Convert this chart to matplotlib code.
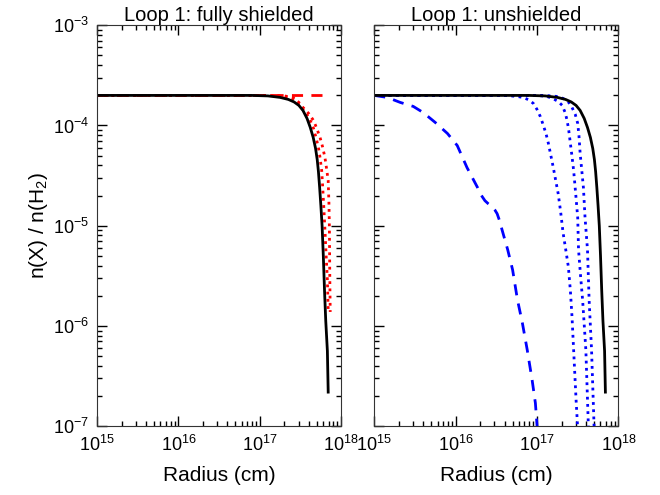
import numpy as np
import matplotlib
matplotlib.use("Agg")
import matplotlib.pyplot as plt

plt.rcParams['font.family'] = ['Liberation Sans', 'DejaVu Sans']
plt.rcParams['mathtext.fontset'] = 'custom'
plt.rcParams['mathtext.rm'] = 'Liberation Sans'
plt.rcParams['mathtext.it'] = 'Liberation Sans:italic'
plt.rcParams['font.size'] = 12

# log10 radius (cm) and log10 abundance
# black solid: same curve in both panels
black_r = [15.0, 16.9, 17.1, 17.25, 17.35, 17.42, 17.48, 17.53, 17.58, 17.62, 17.656,
           17.685, 17.705, 17.72, 17.735, 17.75, 17.765, 17.78, 17.795, 17.81, 17.83, 17.84]
black_n = [-3.70, -3.70, -3.705, -3.72, -3.74, -3.765, -3.80, -3.85, -3.93, -4.02, -4.12,
           -4.23, -4.34, -4.46, -4.62, -4.80, -5.00, -5.30, -5.65, -5.95, -6.25, -6.66]

# left panel, red
red_dash_r = [15.0, 17.82]
red_dash_n = [-3.70, -3.70]

red_dot1_r = [15.0, 17.0, 17.25, 17.37, 17.43, 17.47, 17.52, 17.57, 17.62, 17.66, 17.69,
              17.72, 17.74, 17.76, 17.77, 17.785, 17.80, 17.815, 17.83, 17.84]
red_dot1_n = [-3.70, -3.70, -3.705, -3.72, -3.745, -3.78, -3.83, -3.88, -3.95, -4.03, -4.12,
              -4.22, -4.32, -4.45, -4.58, -4.80, -5.04, -5.30, -5.54, -5.84]

red_dot2_r = [15.0, 17.05, 17.3, 17.41, 17.48, 17.53, 17.60, 17.66, 17.70, 17.74, 17.77,
              17.80, 17.82, 17.84, 17.85, 17.855, 17.86, 17.865]
red_dot2_n = [-3.70, -3.70, -3.705, -3.72, -3.77, -3.82, -3.88, -3.95, -4.03, -4.12, -4.21,
              -4.32, -4.43, -4.55, -4.80, -5.04, -5.54, -5.86]

# right panel, blue
blue_dash_r = [15.0, 15.16, 15.32, 15.48, 15.60, 15.75, 15.90, 16.02, 16.14, 16.27, 16.31,
               16.36, 16.40, 16.45, 16.48, 16.51, 16.54, 16.57, 16.64, 16.70, 16.76, 16.82,
               16.88, 16.94, 16.98, 17.01]
blue_dash_n = [-3.70, -3.72, -3.77, -3.81, -3.87, -3.97, -4.08, -4.20, -4.42, -4.62, -4.69,
               -4.75, -4.78, -4.81, -4.84, -4.88, -4.95, -5.04, -5.24, -5.44, -5.74, -5.97,
               -6.24, -6.54, -6.77, -7.10]

blue_dot1_r = [15.0, 16.6, 16.75, 16.83, 16.90, 16.955, 17.0, 17.04, 17.07, 17.11, 17.14,
               17.17, 17.20, 17.23, 17.26, 17.29, 17.32, 17.355, 17.385, 17.41, 17.43,
               17.46, 17.48, 17.505]
blue_dot1_n = [-3.70, -3.70, -3.71, -3.72, -3.745, -3.78, -3.84, -3.91, -3.98, -4.08, -4.18,
               -4.30, -4.42, -4.55, -4.68, -4.86, -5.07, -5.25, -5.41, -5.65, -5.91,
               -6.41, -6.74, -7.10]

blue_dot2_r = [15.0, 17.0, 17.12, 17.19, 17.26, 17.31, 17.345, 17.37, 17.39, 17.41, 17.43,
               17.45, 17.475, 17.50, 17.51, 17.535, 17.56, 17.60, 17.635]
blue_dot2_n = [-3.70, -3.70, -3.71, -3.73, -3.76, -3.80, -3.87, -3.95, -4.05, -4.18, -4.31,
               -4.45, -4.68, -4.92, -5.24, -5.50, -5.74, -6.24, -7.10]

blue_dot3_r = [15.0, 17.1, 17.24, 17.32, 17.39, 17.43, 17.47, 17.50, 17.515, 17.53, 17.55,
               17.57, 17.59, 17.62, 17.64, 17.67, 17.705]
blue_dot3_n = [-3.70, -3.70, -3.71, -3.73, -3.77, -3.82, -3.89, -3.98, -4.10, -4.28, -4.45,
               -4.62, -4.92, -5.24, -5.74, -6.24, -7.10]


def p(v):
    return 10.0 ** np.array(v)


dash = (0, (4, 3))
dot = (0, (1, 1.6))
lw = 2.0

fig = plt.figure(figsize=(6.6, 4.95), dpi=100)
ax1 = fig.add_axes([0.147, 0.139, 0.370, 0.810])
ax2 = fig.add_axes([0.567, 0.139, 0.370, 0.810])

ax1.plot(p(red_dash_r), p(red_dash_n), color='red', lw=lw, linestyle=dash)
ax1.plot(p(red_dot1_r), p(red_dot1_n), color='red', lw=lw, linestyle=dot)
ax1.plot(p(red_dot2_r), p(red_dot2_n), color='red', lw=lw, linestyle=dot)
ax1.plot(p(black_r), p(black_n), color='black', lw=lw)

ax2.plot(p(blue_dash_r), p(blue_dash_n), color='blue', lw=lw, linestyle=dash)
ax2.plot(p(blue_dot1_r), p(blue_dot1_n), color='blue', lw=lw, linestyle=dot)
ax2.plot(p(blue_dot2_r), p(blue_dot2_n), color='blue', lw=lw, linestyle=dot)
ax2.plot(p(blue_dot3_r), p(blue_dot3_n), color='blue', lw=lw, linestyle=dot)
ax2.plot(p(black_r), p(black_n), color='black', lw=lw)

for ax, title in [(ax1, 'Loop 1: fully shielded'), (ax2, 'Loop 1: unshielded')]:
    ax.set_xscale('log')
    ax.set_yscale('log')
    ax.set_xlim(1e15, 1e18)
    ax.set_ylim(1e-7, 1e-3)
    ax.set_title(title, fontsize=14.5, pad=3)
    ax.set_xlabel('Radius (cm)', fontsize=15, labelpad=8)
    ax.tick_params(which='both', direction='in', top=True, right=True, labelsize=13)
    ax.tick_params(which='major', length=7, width=1, pad=6)
    ax.tick_params(which='minor', length=3.5, width=1)
    for s in ax.spines.values():
        s.set_color('#333333')

ax2.tick_params(labelleft=False)
ax1.set_ylabel('n(X) / n(H$_2$)', fontsize=15, labelpad=2)

fig.savefig('out.png', dpi=100)
